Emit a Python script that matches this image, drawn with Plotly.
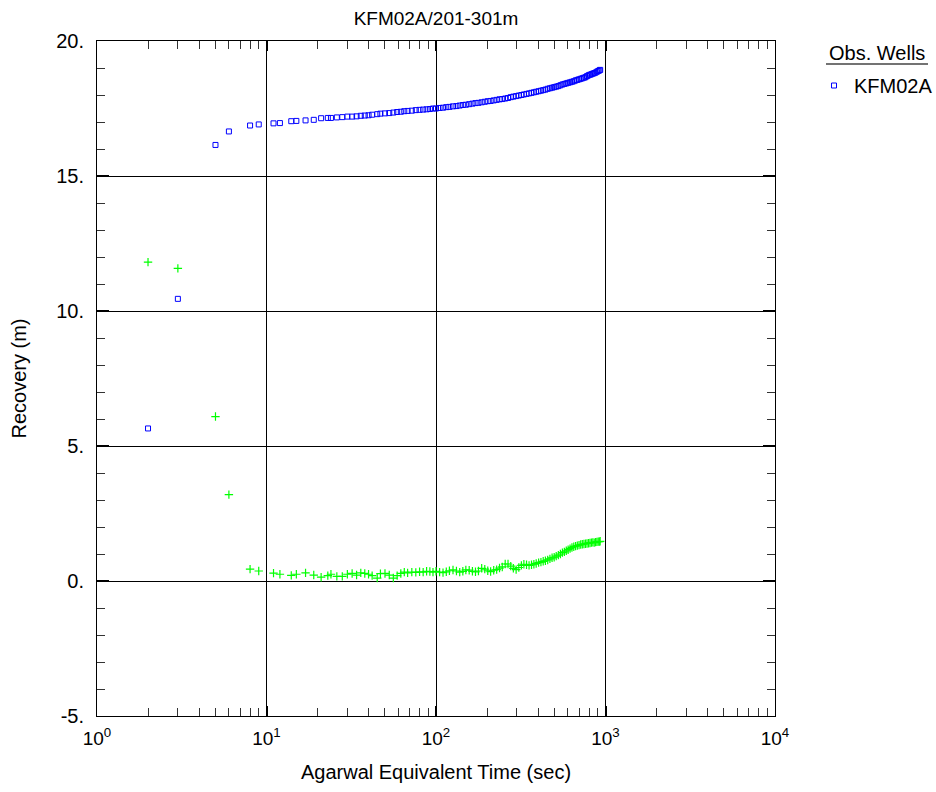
import plotly.graph_objects as go

# ---- data ----
time_s = [2, 3, 5, 6, 8, 9, 11, 12, 14, 15, 17, 19, 21, 23, 24, 26, 28, 30, 32, 34,
          36, 38, 40, 42, 45, 47, 50, 53, 56, 59, 62, 65, 68, 72, 76, 80, 84, 88, 92, 96,
          100, 105, 110, 115, 120, 126, 132, 138, 144, 150, 157, 164, 171, 178, 186, 194,
          202, 210, 219, 228, 237, 246, 256, 266, 276, 286, 297, 308, 319, 330, 342, 354,
          366, 378, 390, 403, 416, 429, 442, 456, 470, 484, 498, 512, 527, 542, 557, 572,
          587, 602, 618, 634, 650, 666, 682, 698, 714, 730, 746, 762, 778, 794, 810, 826,
          842, 858, 874, 890, 906, 920, 930]

kfm02a = [5.65, 10.45, 16.15, 16.65, 16.87, 16.91, 16.95, 16.96, 17.03, 17.04, 17.06, 17.08,
          17.14, 17.15, 17.15, 17.17, 17.18, 17.20, 17.20, 17.21, 17.23, 17.24, 17.25, 17.27,
          17.29, 17.31, 17.32, 17.33, 17.35, 17.37, 17.38, 17.40, 17.41, 17.42, 17.44, 17.45,
          17.46, 17.47, 17.48, 17.50, 17.50, 17.52, 17.53, 17.55, 17.56, 17.58, 17.59, 17.61,
          17.63, 17.64, 17.66, 17.68, 17.70, 17.71, 17.73, 17.75, 17.77, 17.78, 17.80, 17.82,
          17.84, 17.85, 17.87, 17.89, 17.92, 17.94, 17.96, 17.98, 18.00, 18.02, 18.04, 18.06,
          18.08, 18.10, 18.12, 18.14, 18.16, 18.18, 18.20, 18.23, 18.25, 18.27, 18.29, 18.31,
          18.33, 18.36, 18.39, 18.41, 18.43, 18.45, 18.47, 18.49, 18.51, 18.54, 18.56, 18.58,
          18.60, 18.62, 18.64, 18.66, 18.70, 18.73, 18.75, 18.77, 18.79, 18.81, 18.83, 18.86,
          18.89, 18.91, 18.93]

second_series = [11.81, 11.58, 6.09, 3.20, 0.44, 0.37, 0.29, 0.25, 0.21, 0.25, 0.30, 0.22,
                 0.14, 0.20, 0.25, 0.17, 0.17, 0.25, 0.28, 0.22, 0.30, 0.28, 0.25, 0.20,
                 0.11, 0.27, 0.28, 0.22, 0.11, 0.20, 0.28, 0.33, 0.30, 0.33, 0.32, 0.34,
                 0.33, 0.36, 0.35, 0.33, 0.36, 0.33, 0.31, 0.34, 0.38, 0.41, 0.37, 0.33,
                 0.36, 0.41, 0.40, 0.36, 0.34, 0.37, 0.47, 0.44, 0.38, 0.35, 0.40, 0.42,
                 0.48, 0.52, 0.63, 0.63, 0.55, 0.47, 0.42, 0.50, 0.58, 0.62, 0.60, 0.58,
                 0.60, 0.62, 0.65, 0.68, 0.70, 0.73, 0.75, 0.78, 0.82, 0.86, 0.88, 0.92,
                 0.96, 1.00, 1.05, 1.08, 1.12, 1.16, 1.20, 1.24, 1.27, 1.29, 1.31, 1.33,
                 1.35, 1.36, 1.37, 1.38, 1.39, 1.40, 1.41, 1.42, 1.43, 1.42, 1.44, 1.45,
                 1.46, 1.46, 1.47]

x_tick_vals = [1, 10, 100, 1000, 10000]
x_tick_text = ["10<sup>0</sup>", "10<sup>1</sup>", "10<sup>2</sup>", "10<sup>3</sup>", "10<sup>4</sup>"]
y_tick_vals = [-5, 0, 5, 10, 15, 20]
y_tick_text = ["-5.", "0.", "5.", "10.", "15.", "20."]

FONT = "Liberation Sans, Arial, sans-serif"
W, H = 936, 792
L, R, T, B = 97, 161, 41, 76
PW, PH = W - L - R, H - T - B


def px_x(p):
    return (p - L) / PW


def px_y(p):
    return 1 - (p - T) / PH


fig = go.Figure()
fig.add_trace(go.Scatter(
    x=time_s, y=second_series, mode="markers", showlegend=False,
    marker=dict(symbol="cross-thin", size=6, color="rgba(0,0,0,0)",
                line=dict(color="#00ff00", width=1.2)),
))
fig.add_trace(go.Scatter(
    x=time_s, y=kfm02a, mode="markers", name="KFM02A",
    marker=dict(symbol="square-open", size=5, color="#0000ff",
                line=dict(color="#0000ff", width=1)),
))

minor_x = [m * d for d in (1, 10, 100, 1000) for m in range(2, 10)]

fig.update_xaxes(
    type="log", range=[0, 4],
    tickmode="array", tickvals=x_tick_vals, ticktext=x_tick_text,
    ticks="inside", ticklen=10, tickwidth=2, tickcolor="black",
    showgrid=True, gridcolor="black", gridwidth=1,
    showline=True, linecolor="black", linewidth=1, mirror="allticks",
    minor=dict(tickmode="array", tickvals=minor_x, ticks="inside", ticklen=8,
               tickcolor="#333", tickwidth=1, showgrid=False),
    tickfont=dict(family=FONT, size=19, color="black"),
    ticklabelstandoff=5,
    title=dict(text="Agarwal Equivalent Time (sec)", font=dict(family=FONT, size=20, color="black"),
               standoff=17),
    zeroline=False,
)
fig.update_yaxes(
    range=[-5, 20],
    tickmode="array", tickvals=y_tick_vals, ticktext=y_tick_text,
    ticks="inside", ticklen=12, tickwidth=2, tickcolor="black",
    showgrid=True, gridcolor="black", gridwidth=1,
    showline=True, linecolor="black", linewidth=1, mirror="allticks",
    minor=dict(dtick=1, ticks="inside", ticklen=8, tickcolor="#333", tickwidth=1, showgrid=False),
    tickfont=dict(family=FONT, size=20, color="black"),
    ticklabelstandoff=8,
    title=dict(text="Recovery (m)", font=dict(family=FONT, size=20, color="black"), standoff=24),
    zeroline=True, zerolinecolor="black", zerolinewidth=1,
)

fig.update_layout(
    width=W, height=H,
    margin=dict(l=L, r=R, t=T, b=B, autoexpand=False),
    paper_bgcolor="white", plot_bgcolor="white",
    title=dict(text="KFM02A/201-301m", x=px_x(436), xref="paper", xanchor="center",
               y=1 - 18 / H, yref="container", yanchor="middle",
               font=dict(family=FONT, size=19, color="black")),
    legend=dict(x=px_x(814), xanchor="left", y=px_y(66), yanchor="top",
                font=dict(family=FONT, size=20, color="black"),
                bgcolor="rgba(0,0,0,0)", itemwidth=30),
    annotations=[dict(text="Obs. Wells", xref="paper", yref="paper",
                      x=px_x(927), xanchor="right", y=px_y(53), yanchor="middle",
                      showarrow=False, font=dict(family=FONT, size=20, color="black"))],
    shapes=[dict(type="line", xref="paper", yref="paper",
                 x0=px_x(826), x1=px_x(928), y0=px_y(64), y1=px_y(64),
                 line=dict(color="#444", width=1.5))],
)

fig.write_html("out.html")
